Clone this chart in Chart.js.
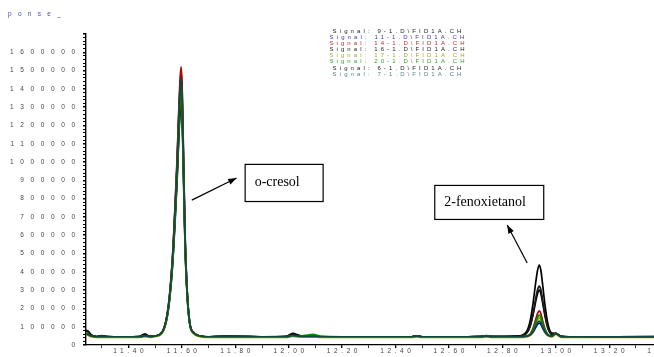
<!DOCTYPE html>
<html>
<head>
<meta charset="utf-8">
<script src="https://cdn.jsdelivr.net/npm/chart.js@4.4.1/dist/chart.umd.min.js"></script>
<style>
  html, body { margin: 0; padding: 0; background: #fff; overflow: hidden; }
  #wrap { width: 654px; height: 357px; overflow: hidden; }
</style>
</head>
<body>
<div id="wrap"><canvas id="gc" width="700" height="357"></canvas></div>
<script>
// retention time (min) shared by all traces
const times = [11.241, 11.25, 11.26, 11.28, 11.30, 11.32, 11.38, 11.44, 11.462, 11.48,
  11.50, 11.53, 11.55, 11.565, 11.575, 11.582, 11.588, 11.593, 11.597, 11.601, 11.606, 11.612, 11.62, 11.63, 11.645, 11.66, 11.70,
  11.76, 11.80, 11.90, 11.99, 12.015, 12.04, 12.07, 12.09, 12.12, 12.20, 12.30, 12.46, 12.478, 12.50, 12.60, 12.72, 12.74, 12.76,
  12.86, 12.89, 12.905, 12.915, 12.925, 12.932, 12.938, 12.944, 12.951, 12.96, 12.97, 12.985, 13.00,
  13.02, 13.05, 13.20, 13.54];

// detector response, in thousands of counts
const sig9_1 = [82, 74, 56, 46, 52, 46, 45, 46, 60, 47,
  49, 78, 203, 440, 703, 913, 1136, 1294, 1360, 1268, 939, 545, 269, 111, 65, 52, 45,
  48, 47, 45, 47, 63, 52, 46, 46, 45, 45, 45, 45, 50, 45, 45, 46, 51, 46,
  49, 72, 139, 229, 343, 410, 437, 410, 327, 214, 119, 65, 64,
  48, 45, 45, 46];
const sig11_1 = [62, 56, 49, 45, 46, 45, 45, 45, 50, 46,
  49, 81, 218, 479, 768, 999, 1244, 1418, 1490, 1389, 1028, 594, 291, 117, 67, 52, 45,
  46, 46, 45, 45, 52, 48, 47, 48, 45, 45, 45, 45, 48, 45, 45, 46, 48, 46,
  45, 47, 54, 70, 96, 113, 120, 113, 92, 68, 53, 47, 62,
  46, 45, 45, 45];
const sig14_1 = [62, 56, 49, 45, 46, 45, 45, 45, 50, 46,
  49, 82, 222, 488, 783, 1019, 1269, 1446, 1520, 1417, 1048, 606, 296, 119, 67, 52, 45,
  46, 46, 45, 45, 52, 48, 47, 48, 45, 45, 45, 45, 48, 45, 45, 46, 48, 46,
  45, 49, 62, 92, 141, 173, 186, 172, 132, 87, 59, 49, 62,
  46, 45, 45, 45];
const sig16_1 = [80, 72, 55, 46, 50, 46, 45, 46, 55, 47,
  49, 80, 212, 464, 743, 966, 1203, 1370, 1440, 1342, 994, 575, 282, 115, 66, 52, 45,
  47, 47, 45, 46, 58, 50, 46, 46, 45, 45, 45, 45, 49, 45, 45, 46, 50, 46,
  48, 64, 111, 175, 256, 303, 322, 303, 244, 164, 98, 59, 63,
  47, 45, 45, 46];
const sig17_1 = [58, 52, 45, 41, 42, 41, 41, 41, 46, 42,
  45, 75, 206, 455, 731, 951, 1186, 1351, 1420, 1323, 979, 565, 275, 110, 62, 48, 41,
  42, 42, 41, 41, 47, 43, 43, 44, 41, 41, 41, 41, 44, 41, 41, 42, 44, 42,
  41, 44, 54, 76, 114, 138, 148, 137, 107, 73, 52, 44, 58,
  42, 41, 41, 41];
const sig20_1 = [64, 57, 49, 45, 46, 45, 45, 45, 50, 46,
  49, 79, 208, 452, 723, 939, 1170, 1332, 1400, 1305, 966, 560, 275, 113, 65, 52, 45,
  46, 46, 45, 45, 52, 49, 54, 58, 48, 45, 45, 45, 48, 45, 45, 46, 48, 46,
  45, 49, 59, 84, 126, 153, 164, 152, 119, 81, 57, 49, 62,
  46, 44, 43, 43];
const sig6_1 = [78, 70, 54, 46, 50, 46, 45, 46, 58, 47,
  49, 77, 199, 431, 688, 893, 1112, 1266, 1330, 1240, 919, 533, 263, 109, 64, 51, 45,
  47, 47, 45, 46, 60, 51, 46, 46, 45, 45, 45, 45, 49, 45, 45, 46, 50, 46,
  48, 63, 106, 165, 239, 282, 300, 282, 229, 155, 93, 58, 63,
  47, 45, 45, 46];
const sig7_1 = [62, 56, 49, 45, 46, 45, 45, 45, 50, 46,
  49, 80, 215, 470, 753, 979, 1219, 1389, 1460, 1361, 1007, 583, 286, 116, 66, 52, 45,
  46, 46, 45, 45, 52, 48, 47, 48, 45, 45, 45, 45, 48, 45, 45, 46, 48, 46,
  45, 48, 55, 73, 103, 123, 131, 122, 98, 71, 54, 48, 62,
  46, 45, 45, 45];

const signalNames = ['Signal: 9-1.D\\FID1A.CH', 'Signal: 11-1.D\\FID1A.CH', 'Signal: 14-1.D\\FID1A.CH',
  'Signal: 16-1.D\\FID1A.CH', 'Signal: 17-1.D\\FID1A.CH', 'Signal: 20-1.D\\FID1A.CH',
  'Signal: 6-1.D\\FID1A.CH', 'Signal: 7-1.D\\FID1A.CH'];
const signalValues = [sig9_1, sig11_1, sig14_1, sig16_1, sig17_1, sig20_1, sig6_1, sig7_1];

const yTickLabels = [0, 100000, 200000, 300000, 400000, 500000, 600000, 700000, 800000,
  900000, 1000000, 1100000, 1200000, 1300000, 1400000, 1500000, 1600000];
const xTickLabels = [11.40, 11.60, 11.80, 12.00, 12.20, 12.40, 12.60, 12.80, 13.00, 13.20, 13.40];

// styles
const lineColors = ['#000000', '#0000c0', '#b00000', '#1a1a1a', '#9a9a00', '#008a00', '#000000', '#104a3a'];
const legendColors = ['#222222', '#3535b8', '#b82e2e', '#222222', '#a8a830', '#35a035', '#222222', '#4f8484'];
const drawOrder = [7, 4, 3, 5, 2, 1, 6, 0]; // lower = on top

// annotation boxes and arrows, in data units
const peakNotes = [
  { text: 'o-cresol', x0: 11.835, x1: 12.127, yTop: 990000, yBot: 787000,
    tail: [11.637, 792000], head: [11.805, 913000] },
  { text: '2-fenoxietanol', x0: 12.545, x1: 12.953, yTop: 875000, yBot: 689000,
    tail: [12.893, 448000], head: [12.818, 656000] }
];

const datasets = signalValues.map((vals, i) => ({
  label: signalNames[i],
  data: vals.map((v, j) => ({ x: times[j], y: v * 1000 })),
  borderColor: lineColors[i],
  borderWidth: 1.7,
  pointRadius: 0,
  cubicInterpolationMode: 'monotone',
  fill: false,
  order: drawOrder[i]
}));

function spacedText(ctx, text, x, y, spacing, align) {
  ctx.letterSpacing = spacing + 'px';
  const w = ctx.measureText(text).width - spacing;
  let left = x;
  if (align === 'center') left = x - w / 2;
  if (align === 'right') left = x - w;
  ctx.textAlign = 'left';
  ctx.fillText(text, left, y);
  ctx.letterSpacing = '0px';
}

function arrow(ctx, x1, y1, x2, y2) {
  ctx.beginPath();
  ctx.moveTo(x1, y1);
  ctx.lineTo(x2, y2);
  ctx.stroke();
  const a = Math.atan2(y2 - y1, x2 - x1);
  ctx.beginPath();
  ctx.moveTo(x2, y2);
  ctx.lineTo(x2 - 9 * Math.cos(a - 0.35), y2 - 9 * Math.sin(a - 0.35));
  ctx.lineTo(x2 - 9 * Math.cos(a + 0.35), y2 - 9 * Math.sin(a + 0.35));
  ctx.closePath();
  ctx.fill();
}

const overlay = {
  id: 'overlay',
  afterDraw(chart) {
    const ctx = chart.ctx;
    const xs = chart.scales.x, ys = chart.scales.y;
    ctx.save();
    ctx.textBaseline = 'middle';

    // axis title fragment
    ctx.font = '6.5px "Liberation Sans", Arial, sans-serif';
    ctx.fillStyle = '#4848a8';
    spacedText(ctx, 'ponse_', 8, 14, 6.3, 'left');

    // y tick labels
    ctx.fillStyle = '#444444';
    yTickLabels.forEach(v => {
      spacedText(ctx, String(v), 75, ys.getPixelForValue(v), 6.6, 'right');
    });

    // x tick labels
    xTickLabels.forEach(v => {
      spacedText(ctx, v.toFixed(2), xs.getPixelForValue(v), 351, 3.6, 'center');
    });

    // legend
    ctx.font = '6px "Liberation Sans", Arial, sans-serif';
    signalNames.forEach((name, i) => {
      ctx.fillStyle = legendColors[i];
      spacedText(ctx, name, 397, 31 + i * 6.15, 3.1, 'center');
    });

    // peak labels
    ctx.strokeStyle = '#000';
    ctx.fillStyle = '#000';
    ctx.lineWidth = 1.2;
    peakNotes.forEach(n => {
      const l = xs.getPixelForValue(n.x0), r = xs.getPixelForValue(n.x1);
      const t = ys.getPixelForValue(n.yTop), b = ys.getPixelForValue(n.yBot);
      ctx.fillStyle = '#fff';
      ctx.fillRect(l, t, r - l, b - t);
      ctx.strokeRect(l + 0.5, t + 0.5, r - l, b - t);
      ctx.fillStyle = '#000';
      ctx.font = '14px "Liberation Serif", "Times New Roman", serif';
      ctx.textAlign = 'left';
      ctx.fillText(n.text, l + 10, (t + b) / 2);
      arrow(ctx, xs.getPixelForValue(n.tail[0]), ys.getPixelForValue(n.tail[1]),
        xs.getPixelForValue(n.head[0]), ys.getPixelForValue(n.head[1]));
    });
    ctx.restore();
  }
};

new Chart(document.getElementById('gc'), {
  type: 'line',
  data: { datasets },
  options: {
    responsive: false,
    animation: false,
    devicePixelRatio: 1,
    layout: { padding: { left: 0, right: 0, top: 34, bottom: 0 } },
    plugins: { legend: { display: false }, tooltip: { enabled: false } },
    scales: {
      x: {
        type: 'linear',
        min: 11.241,
        max: 13.54,
        border: { display: true, color: '#000', width: 1.3 },
        grid: {
          drawOnChartArea: false, drawTicks: true, tickLength: 3, color: '#000',
          lineWidth: c => (Math.abs(c.tick.value * 5 - Math.round(c.tick.value * 5)) < 1e-6 ? 1.3 : 0.8)
        },
        ticks: { display: false },
        afterBuildTicks: s => {
          const t = [];
          for (let k = 113; k <= 135; k++) t.push({ value: k / 10 });
          s.ticks = t;
        },
        afterFit: s => { s.height = 12; }
      },
      y: {
        type: 'linear',
        min: 0,
        max: 1700000,
        border: { display: true, color: '#000', width: 1.4 },
        grid: {
          drawOnChartArea: false, drawTicks: true, tickLength: 3, color: '#000',
          lineWidth: c => (c.tick.value % 100000 === 0 ? 1.5 : 1)
        },
        ticks: { display: false, stepSize: 20000 },
        afterFit: s => { s.width = 86; }
      }
    }
  },
  plugins: [overlay]
});
</script>
</body>
</html>
